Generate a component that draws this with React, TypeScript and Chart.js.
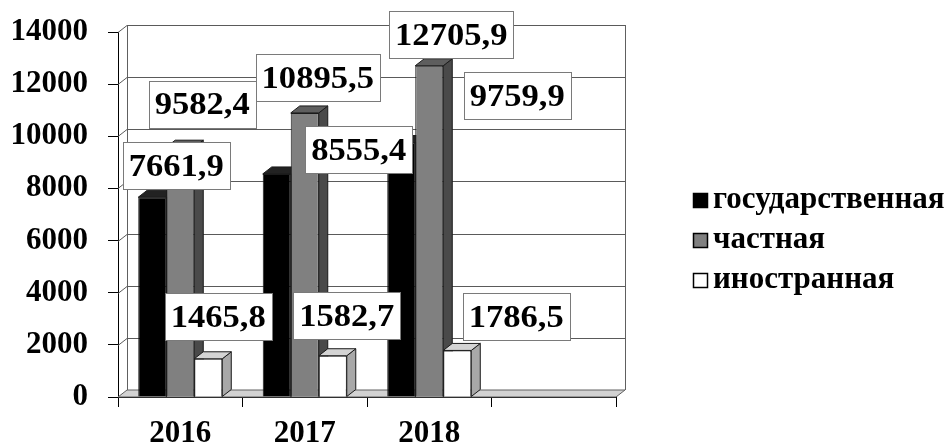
import React, { useEffect, useRef } from 'react';
import { Chart, registerables } from 'chart.js';

Chart.register(...registerables);

const CATEGORIES = ['2016', '2017', '2018', ''];
const STATE = [7661.9, 8555.4, 9759.9];
const PRIVATE = [9582.4, 10895.5, 12705.9];
const FOREIGN = [1465.8, 1582.7, 1786.5];
const SERIES_NAMES = ['государственная', 'частная', 'иностранная'];
const Y_MIN = 0;
const Y_MAX = 14000;
const Y_STEP = 2000;

// styling
const FONT_FAMILY = '"Liberation Serif", "Times New Roman", serif';
const LABEL_FONT = `bold 32px ${FONT_FAMILY}`;
const LEGEND_FONT = `bold 31px ${FONT_FAMILY}`;
const LABEL_STRETCH = 1.08;
const FRONT = ['#000000', '#808080', '#ffffff'];
const SIDE = ['#000000', '#4a4a4a', '#a8a8a8'];
const TOP = ['#222222', '#5e5e5e', '#d4d4d4'];
const DX = 9;
const DY = -7;
// label box centre offset (px) from the bar's top centre
const LABEL_OFFSETS = [
  [[24, -32], [82, -24], [116, -47]],
  [[22, -43], [13, -35], [22, -31]],
  [[10, -42], [14, -40], [59, -34]],
];

const fmt = (v: number) => v.toFixed(1).replace('.', ',');

const threeD = {
  id: 'threeD',
  beforeDatasetsDraw(chart: any) {
    const { ctx, chartArea: a, scales } = chart;
    const ys = scales.y;
    const y0 = ys.getPixelForValue(Y_MIN);
    const yTop = ys.getPixelForValue(Y_MAX);
    ctx.save();
    ctx.lineWidth = 1;
    // back wall outline
    ctx.strokeStyle = '#606060';
    ctx.beginPath();
    ctx.moveTo(a.left + DX + 0.5, yTop + DY);
    ctx.lineTo(a.left + DX + 0.5, y0 + DY);
    ctx.moveTo(a.right + DX + 0.5, yTop + DY);
    ctx.lineTo(a.right + DX + 0.5, y0 + DY);
    ctx.stroke();
    // grid lines on walls
    ys.ticks.forEach((t: any) => {
      if (t.value === Y_MIN) return;
      const py = Math.round(ys.getPixelForValue(t.value)) + 0.5;
      ctx.strokeStyle = '#5a5a5a';
      ctx.beginPath();
      ctx.moveTo(a.left, py);
      ctx.lineTo(a.left + DX, py + DY);
      ctx.lineTo(a.right + DX, py + DY);
      ctx.stroke();
    });
    // floor
    ctx.fillStyle = '#d2d2d2';
    ctx.strokeStyle = '#606060';
    ctx.beginPath();
    ctx.moveTo(a.left, y0);
    ctx.lineTo(a.right, y0);
    ctx.lineTo(a.right + DX, y0 + DY);
    ctx.lineTo(a.left + DX, y0 + DY);
    ctx.closePath();
    ctx.fill();
    ctx.stroke();
    // 3D side and top faces of bars
    chart.data.datasets.forEach((_ds: any, di: number) => {
      const meta = chart.getDatasetMeta(di);
      meta.data.forEach((el: any) => {
        const { x, y, base, width } = el.getProps(['x', 'y', 'base', 'width'], true);
        if (!isFinite(y)) return;
        const l = x - width / 2;
        const r = x + width / 2;
        ctx.strokeStyle = '#1a1a1a';
        ctx.fillStyle = SIDE[di];
        ctx.beginPath();
        ctx.moveTo(r, base);
        ctx.lineTo(r, y);
        ctx.lineTo(r + DX, y + DY);
        ctx.lineTo(r + DX, base + DY);
        ctx.closePath();
        ctx.fill();
        ctx.stroke();
        ctx.fillStyle = TOP[di];
        ctx.beginPath();
        ctx.moveTo(l, y);
        ctx.lineTo(r, y);
        ctx.lineTo(r + DX, y + DY);
        ctx.lineTo(l + DX, y + DY);
        ctx.closePath();
        ctx.fill();
        ctx.stroke();
      });
    });
    ctx.restore();
  },
  afterDatasetsDraw(chart: any) {
    const { ctx } = chart;
    ctx.save();
    ctx.font = LABEL_FONT;
    ctx.textAlign = 'center';
    ctx.textBaseline = 'middle';
    chart.data.datasets.forEach((ds: any, di: number) => {
      const meta = chart.getDatasetMeta(di);
      meta.data.forEach((el: any, i: number) => {
        const v = ds.data[i];
        if (v == null) return;
        const off = LABEL_OFFSETS[di][i];
        const { x, y } = el.getProps(['x', 'y'], true);
        const cx = x + off[0];
        const cy = y + off[1];
        const text = fmt(v);
        const w = Math.round(ctx.measureText(text).width * LABEL_STRETCH + 12);
        const h = 47;
        const bx = Math.round(cx - w / 2);
        const by = Math.round(cy - h / 2);
        ctx.fillStyle = '#ffffff';
        ctx.fillRect(bx, by, w, h);
        ctx.strokeStyle = '#7a7a7a';
        ctx.lineWidth = 1;
        ctx.strokeRect(bx + 0.5, by + 0.5, w, h);
        ctx.save();
        ctx.translate(cx, cy + 2);
        ctx.scale(LABEL_STRETCH, 1);
        ctx.fillStyle = '#000000';
        ctx.fillText(text, 0, 0);
        ctx.restore();
      });
    });
    ctx.restore();
  },
  afterDraw(chart: any) {
    const { ctx } = chart;
    ctx.save();
    ctx.font = LEGEND_FONT;
    ctx.textBaseline = 'middle';
    ctx.textAlign = 'left';
    const rows = [200, 240, 280];
    chart.data.datasets.forEach((ds: any, di: number) => {
      const cy = rows[di];
      ctx.fillStyle = ds.backgroundColor;
      ctx.fillRect(693, cy - 7, 15, 15);
      ctx.strokeStyle = '#000000';
      ctx.lineWidth = 1.5;
      ctx.strokeRect(693.5, cy - 6.5, 14, 14);
      ctx.fillStyle = '#000000';
      ctx.fillText(ds.label, 713, cy);
    });
    ctx.restore();
  },
};

export default function App() {
  const ref = useRef<HTMLCanvasElement | null>(null);
  useEffect(() => {
    if (!ref.current) return;
    const datasets = [STATE, PRIVATE, FOREIGN].map((d, i) => ({
      label: SERIES_NAMES[i],
      data: d,
      backgroundColor: FRONT[i],
      borderColor: '#1a1a1a',
      borderWidth: 1,
      borderSkipped: 'start',
      barPercentage: 1,
      categoryPercentage: 0.675,
    }));
    const chart = new Chart(ref.current, {
      type: 'bar',
      data: { labels: CATEGORIES, datasets },
      options: {
        responsive: false,
        animation: false,
        devicePixelRatio: 1,
        events: [],
        layout: { padding: { top: 32, right: 334, bottom: 0, left: 0 } },
        plugins: { legend: { display: false }, tooltip: { enabled: false } },
        scales: {
          x: {
            type: 'category',
            offset: true,
            grid: { display: true, drawOnChartArea: false, offset: true, tickLength: 10, color: '#000000' },
            border: { display: true, color: '#000000', width: 1 },
            ticks: { font: { family: FONT_FAMILY, size: 31, weight: 'bold' }, color: '#000000', padding: 8, maxRotation: 0 },
            afterFit: (s: any) => { s.height = 51; },
          },
          y: {
            min: Y_MIN,
            max: Y_MAX,
            ticks: {
              stepSize: Y_STEP,
              font: { family: FONT_FAMILY, size: 31, weight: 'bold' },
              color: '#000000',
              padding: 20,
              callback: (v: any) => String(v),
            },
            grid: { display: true, drawOnChartArea: false, tickLength: 10, color: '#000000' },
            border: { display: true, color: '#000000', width: 1 },
            afterFit: (s: any) => {
              s.width = 118;
              s.paddingTop = 0;
              s.paddingBottom = 0;
            },
          },
        },
      },
      plugins: [threeD],
    } as any);
    return () => chart.destroy();
  }, []);
  return (
    <div style={{ position: 'absolute', left: 0, top: 0, width: 950, height: 448, background: '#ffffff' }}>
      <canvas ref={ref} width={950} height={448} style={{ display: 'block' }} />
    </div>
  );
}
